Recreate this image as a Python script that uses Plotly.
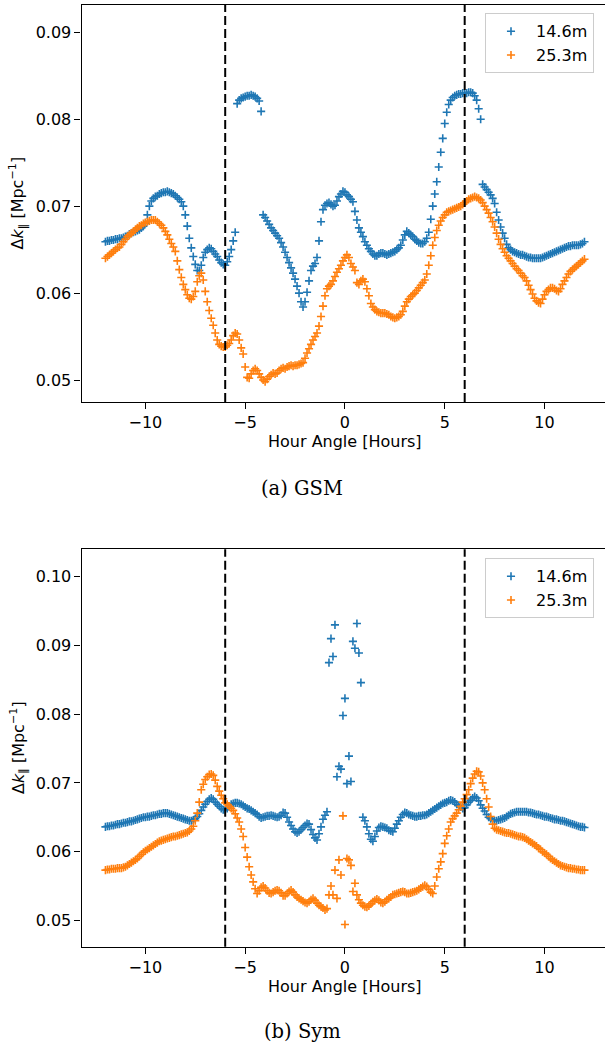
import numpy as np
import plotly.graph_objects as go

# Hour angle sampling (hours), -12 .. 12 in 0.1 h steps
hour_angle = np.round(np.arange(-120, 121) / 10.0, 1)

# GSM, 14.6 m baseline
gsm_146 = [
    0.0659, 0.0660, 0.0660, 0.0661, 0.0661, 0.0662, 0.0662, 0.0663, 0.0663, 0.0664,
    0.0665, 0.0666, 0.0668, 0.0669, 0.0670, 0.0671, 0.0672, 0.0673, 0.0675, 0.0677,
    0.0680, 0.0690, 0.0700, 0.0706, 0.0709, 0.0711, 0.0712, 0.0714, 0.0715, 0.0716,
    0.0716, 0.0717, 0.0716, 0.0715, 0.0714, 0.0712, 0.0710, 0.0708, 0.0705, 0.0700,
    0.0690, 0.0677, 0.0663, 0.0652, 0.0642, 0.0633, 0.0626, 0.0626, 0.0632, 0.0641,
    0.0647, 0.0650, 0.0652, 0.0651, 0.0648, 0.0645, 0.0642, 0.0638, 0.0635, 0.0633,
    0.0632, 0.0636, 0.0642, 0.0650, 0.0660, 0.0670, 0.0818, 0.0822, 0.0824, 0.0825,
    0.0826, 0.0827, 0.0827, 0.0828, 0.0827, 0.0826, 0.0824, 0.0821, 0.0809, 0.0690,
    0.0687, 0.0683, 0.0679, 0.0675, 0.0672, 0.0669, 0.0666, 0.0663, 0.0658, 0.0653,
    0.0647, 0.0641, 0.0635, 0.0629, 0.0623, 0.0616, 0.0608, 0.0600, 0.0590, 0.0584,
    0.0590, 0.0601, 0.0614, 0.0626, 0.0631, 0.0634, 0.0641, 0.0660, 0.0682, 0.0696,
    0.0701, 0.0703, 0.0704, 0.0702, 0.0700, 0.0701, 0.0706, 0.0711, 0.0714, 0.0717,
    0.0716, 0.0713, 0.0711, 0.0708, 0.0705, 0.0694, 0.0684, 0.0675, 0.0670, 0.0665,
    0.0659, 0.0655, 0.0651, 0.0648, 0.0645, 0.0643, 0.0643, 0.0645, 0.0646, 0.0646,
    0.0645, 0.0644, 0.0645, 0.0646, 0.0647, 0.0648, 0.0650, 0.0652, 0.0655, 0.0661,
    0.0667, 0.0671, 0.0669, 0.0667, 0.0665, 0.0662, 0.0660, 0.0658, 0.0657, 0.0657,
    0.0659, 0.0663, 0.0670, 0.0685, 0.0700, 0.0714, 0.0728, 0.0745, 0.0762, 0.0778,
    0.0795, 0.0808, 0.0817, 0.0822, 0.0825, 0.0827, 0.0828, 0.0829, 0.0829, 0.0830,
    0.0830, 0.0830, 0.0831, 0.0831, 0.0830, 0.0827, 0.0822, 0.0812, 0.0800, 0.0725,
    0.0722, 0.0719, 0.0716, 0.0713, 0.0709, 0.0703, 0.0693, 0.0684, 0.0676, 0.0669,
    0.0663, 0.0656, 0.0652, 0.0650, 0.0648, 0.0647, 0.0646, 0.0645, 0.0644, 0.0644,
    0.0643, 0.0642, 0.0641, 0.0641, 0.0640, 0.0640, 0.0640, 0.0640, 0.0640, 0.0641,
    0.0642, 0.0643, 0.0644, 0.0645, 0.0646, 0.0647, 0.0648, 0.0649, 0.0650, 0.0651,
    0.0652, 0.0653, 0.0654, 0.0654, 0.0655, 0.0655, 0.0655, 0.0655, 0.0656, 0.0657,
    0.0659,
]

# GSM, 25.3 m baseline
gsm_253 = [
    0.0640, 0.0642, 0.0644, 0.0646, 0.0648, 0.0650, 0.0652, 0.0653, 0.0656, 0.0659,
    0.0662, 0.0665, 0.0667, 0.0669, 0.0671, 0.0673, 0.0675, 0.0677, 0.0678, 0.0680,
    0.0681, 0.0682, 0.0683, 0.0684, 0.0684, 0.0684, 0.0682, 0.0680, 0.0678, 0.0675,
    0.0671, 0.0667, 0.0662, 0.0657, 0.0653, 0.0648, 0.0637, 0.0627, 0.0618, 0.0610,
    0.0604, 0.0598, 0.0594, 0.0593, 0.0596, 0.0602, 0.0613, 0.0620, 0.0623, 0.0615,
    0.0602, 0.0590, 0.0580, 0.0571, 0.0563, 0.0554, 0.0546, 0.0541, 0.0539, 0.0538,
    0.0538, 0.0540, 0.0542, 0.0546, 0.0551, 0.0554, 0.0553, 0.0546, 0.0537, 0.0530,
    0.0515, 0.0503, 0.0502, 0.0507, 0.0511, 0.0513, 0.0511, 0.0507, 0.0503, 0.0500,
    0.0498, 0.0501, 0.0504, 0.0506, 0.0508, 0.0507, 0.0508, 0.0511, 0.0513, 0.0514,
    0.0513, 0.0515, 0.0516, 0.0517, 0.0516, 0.0517, 0.0517, 0.0518, 0.0519, 0.0520,
    0.0525, 0.0531, 0.0536, 0.0541, 0.0546, 0.0550, 0.0554, 0.0562, 0.0573, 0.0585,
    0.0597, 0.0605, 0.0608, 0.0610, 0.0614, 0.0619, 0.0624, 0.0628, 0.0632, 0.0637,
    0.0641, 0.0644, 0.0641, 0.0634, 0.0630, 0.0626, 0.0612, 0.0610, 0.0614, 0.0616,
    0.0613, 0.0605, 0.0597, 0.0588, 0.0584, 0.0581, 0.0579, 0.0578, 0.0577, 0.0577,
    0.0577, 0.0576, 0.0575, 0.0573, 0.0572, 0.0571, 0.0572, 0.0573, 0.0575, 0.0579,
    0.0585, 0.0590, 0.0593, 0.0596, 0.0598, 0.0600, 0.0603, 0.0606, 0.0609, 0.0612,
    0.0615, 0.0622, 0.0632, 0.0643, 0.0655, 0.0664, 0.0672, 0.0678, 0.0683, 0.0687,
    0.0690, 0.0693, 0.0694, 0.0695, 0.0696, 0.0697, 0.0698, 0.0699, 0.0700, 0.0702,
    0.0704, 0.0706, 0.0708, 0.0709, 0.0710, 0.0711, 0.0710, 0.0709, 0.0707, 0.0704,
    0.0700, 0.0696, 0.0692, 0.0687, 0.0682, 0.0676, 0.0669, 0.0662, 0.0656, 0.0651,
    0.0647, 0.0643, 0.0640, 0.0637, 0.0634, 0.0631, 0.0628, 0.0626, 0.0623, 0.0620,
    0.0618, 0.0614, 0.0609, 0.0604, 0.0599, 0.0594, 0.0591, 0.0589, 0.0588, 0.0593,
    0.0598, 0.0602, 0.0604, 0.0606, 0.0606, 0.0605, 0.0603, 0.0602, 0.0605, 0.0610,
    0.0614, 0.0618, 0.0622, 0.0625, 0.0627, 0.0629, 0.0631, 0.0633, 0.0635, 0.0637,
    0.0639,
]

# Sym, 14.6 m baseline
sym_146 = [
    0.0636, 0.0637, 0.0637, 0.0638, 0.0638, 0.0639, 0.0640, 0.0640, 0.0641, 0.0642,
    0.0642, 0.0643, 0.0644, 0.0644, 0.0645, 0.0646, 0.0647, 0.0648, 0.0649, 0.0650,
    0.0650, 0.0651, 0.0651, 0.0652, 0.0653, 0.0653, 0.0654, 0.0655, 0.0655, 0.0656,
    0.0656, 0.0656, 0.0655, 0.0654, 0.0653, 0.0652, 0.0651, 0.0650, 0.0649, 0.0648,
    0.0647, 0.0646, 0.0645, 0.0645, 0.0646, 0.0648, 0.0651, 0.0655, 0.0660, 0.0665,
    0.0669, 0.0673, 0.0676, 0.0678, 0.0676, 0.0672, 0.0669, 0.0666, 0.0663, 0.0661,
    0.0661, 0.0663, 0.0666, 0.0669, 0.0670, 0.0671, 0.0671, 0.0670, 0.0669, 0.0667,
    0.0665, 0.0663, 0.0662, 0.0660, 0.0658, 0.0656, 0.0654, 0.0651, 0.0649, 0.0650,
    0.0651, 0.0652, 0.0652, 0.0653, 0.0652, 0.0651, 0.0650, 0.0651, 0.0653, 0.0657,
    0.0656, 0.0650, 0.0643, 0.0638, 0.0633, 0.0629, 0.0627, 0.0629, 0.0632, 0.0635,
    0.0638, 0.0641, 0.0640, 0.0632, 0.0625, 0.0620, 0.0617, 0.0626, 0.0636, 0.0647,
    0.0653, 0.0658, 0.0875, 0.0910, 0.0884, 0.0930, 0.0709, 0.0724, 0.0720, 0.0798,
    0.0823, 0.0699, 0.0739, 0.0702, 0.0906, 0.0896, 0.0932, 0.0889, 0.0846, 0.0650,
    0.0645, 0.0636, 0.0626, 0.0618, 0.0615, 0.0622, 0.0630, 0.0635, 0.0637, 0.0636,
    0.0635, 0.0634, 0.0631, 0.0630, 0.0629, 0.0634, 0.0640, 0.0645, 0.0650, 0.0654,
    0.0657, 0.0656, 0.0654, 0.0653, 0.0652, 0.0651, 0.0651, 0.0652, 0.0652, 0.0653,
    0.0653, 0.0654, 0.0656, 0.0658, 0.0660, 0.0662, 0.0664, 0.0666, 0.0668, 0.0670,
    0.0671, 0.0672, 0.0674, 0.0675, 0.0674, 0.0672, 0.0669, 0.0667, 0.0665, 0.0663,
    0.0664, 0.0668, 0.0672, 0.0675, 0.0678, 0.0680, 0.0678, 0.0674, 0.0668, 0.0663,
    0.0659, 0.0654, 0.0650, 0.0648, 0.0646, 0.0645, 0.0645, 0.0646, 0.0647, 0.0648,
    0.0649, 0.0651, 0.0653, 0.0655, 0.0656, 0.0657, 0.0658, 0.0658, 0.0658, 0.0658,
    0.0658, 0.0658, 0.0657, 0.0657, 0.0656, 0.0655, 0.0654, 0.0654, 0.0653, 0.0652,
    0.0651, 0.0651, 0.0650, 0.0649, 0.0648, 0.0647, 0.0647, 0.0646, 0.0645, 0.0645,
    0.0644, 0.0643, 0.0642, 0.0641, 0.0640, 0.0639, 0.0638, 0.0637, 0.0636, 0.0636,
    0.0635,
]

# Sym, 25.3 m baseline
sym_253 = [
    0.0573, 0.0574, 0.0574, 0.0575, 0.0575, 0.0575, 0.0576, 0.0576, 0.0576, 0.0577,
    0.0578, 0.0580, 0.0582, 0.0584, 0.0586, 0.0588, 0.0590, 0.0593, 0.0596, 0.0599,
    0.0601, 0.0603, 0.0605, 0.0607, 0.0609, 0.0611, 0.0613, 0.0615, 0.0616, 0.0617,
    0.0618, 0.0619, 0.0620, 0.0621, 0.0622, 0.0622, 0.0623, 0.0624, 0.0625, 0.0626,
    0.0627, 0.0628, 0.0630, 0.0633, 0.0637, 0.0645, 0.0656, 0.0672, 0.0690, 0.0698,
    0.0705, 0.0709, 0.0712, 0.0713, 0.0711, 0.0704, 0.0695, 0.0688, 0.0682, 0.0677,
    0.0671, 0.0669, 0.0666, 0.0663, 0.0660, 0.0655, 0.0649, 0.0643, 0.0633, 0.0622,
    0.0606, 0.0592, 0.0578, 0.0566, 0.0556, 0.0546, 0.0539, 0.0543, 0.0548, 0.0550,
    0.0547, 0.0543, 0.0540, 0.0539, 0.0541, 0.0543, 0.0544, 0.0543, 0.0540, 0.0536,
    0.0536, 0.0539, 0.0542, 0.0544, 0.0541, 0.0537, 0.0534, 0.0532, 0.0530, 0.0528,
    0.0526, 0.0525, 0.0527, 0.0530, 0.0532, 0.0529, 0.0525, 0.0522, 0.0520, 0.0518,
    0.0515, 0.0517, 0.0537, 0.0550, 0.0537, 0.0573, 0.0532, 0.0588, 0.0566, 0.0652,
    0.0494, 0.0590, 0.0588, 0.0580, 0.0542, 0.0554, 0.0537, 0.0530, 0.0525, 0.0522,
    0.0520, 0.0519, 0.0521, 0.0524, 0.0527, 0.0529, 0.0531, 0.0529, 0.0526, 0.0525,
    0.0527, 0.0530, 0.0532, 0.0534, 0.0537, 0.0538, 0.0539, 0.0540, 0.0541, 0.0542,
    0.0541, 0.0539, 0.0539, 0.0540, 0.0541, 0.0542, 0.0543, 0.0545, 0.0547, 0.0549,
    0.0551, 0.0549, 0.0545, 0.0541, 0.0539, 0.0550, 0.0563, 0.0575, 0.0585, 0.0597,
    0.0612, 0.0623, 0.0633, 0.0643, 0.0648, 0.0652, 0.0656, 0.0661, 0.0666, 0.0672,
    0.0677, 0.0683, 0.0690, 0.0699, 0.0707, 0.0713, 0.0717, 0.0716, 0.0710, 0.0700,
    0.0690, 0.0677, 0.0665, 0.0651, 0.0640, 0.0634, 0.0632, 0.0631, 0.0630, 0.0629,
    0.0628, 0.0627, 0.0627, 0.0626, 0.0625, 0.0624, 0.0623, 0.0622, 0.0622, 0.0621,
    0.0620, 0.0618, 0.0616, 0.0614, 0.0612, 0.0610, 0.0608, 0.0605, 0.0603, 0.0600,
    0.0598, 0.0596, 0.0593, 0.0590, 0.0588, 0.0586, 0.0584, 0.0582, 0.0580, 0.0579,
    0.0578, 0.0577, 0.0576, 0.0576, 0.0575, 0.0575, 0.0574, 0.0574, 0.0573, 0.0573,
    0.0573,
]

for name, arr in [("gsm_146", gsm_146), ("gsm_253", gsm_253), ("sym_146", sym_146), ("sym_253", sym_253)]:
    assert len(arr) == len(hour_angle), (name, len(arr))

series_names = ["14.6m", "25.3m"]
colors = ["#1f77b4", "#ff7f0e"]
vlines = [-6, 6]
xticks = [-10, -5, 0, 5, 10]
yticks_top = [0.05, 0.06, 0.07, 0.08, 0.09]
yticks_bot = [0.05, 0.06, 0.07, 0.08, 0.09, 0.10]
captions = ["(a) GSM", "(b) Sym"]

W, H = 605, 1048
def py(px):
    return 1 - px / H

fig = go.Figure()

panels = [
    (gsm_146, gsm_253, "x", "y", "legend"),
    (sym_146, sym_253, "x2", "y2", "legend2"),
]
for (a, b, xa, ya, lg) in panels:
    for vals, nm, col in zip([a, b], series_names, colors):
        fig.add_trace(go.Scatter(
            x=hour_angle, y=vals, mode="markers", name=nm,
            xaxis=xa, yaxis=ya, legend=lg,
            marker=dict(symbol="cross-thin", size=5.8, color=col,
                        line=dict(color=col, width=1.6)),
        ))

for xa in ["x", "x2"]:
    for v in vlines:
        fig.add_shape(type="line", xref=xa, yref=f"{'y' if xa == 'x' else 'y2'} domain",
                      x0=v, x1=v, y0=0, y1=1,
                      line=dict(color="black", width=2, dash="9px,4px"))

x_dom = [81.5 / W, 1.0]
axis_common = dict(showline=True, linecolor="black", linewidth=1.1,
                   ticks="outside", ticklen=6, tickwidth=1.1, tickcolor="black",
                   showgrid=False, zeroline=False,
                   tickfont=dict(family="DejaVu Sans", size=16, color="black"))

fig.update_layout(
    width=W, height=H,
    margin=dict(l=0, r=0, t=0, b=0),
    paper_bgcolor="white", plot_bgcolor="white",
    xaxis=dict(domain=x_dom, anchor="y", range=[-13.2, 13.03], tickvals=xticks,
               mirror=True, **axis_common),
    yaxis=dict(domain=[py(402), py(5)], anchor="x", range=[0.04747, 0.09314],
               tickvals=yticks_top, tickformat=".2f", **axis_common),
    xaxis2=dict(domain=x_dom, anchor="y2", range=[-13.2, 13.03], tickvals=xticks,
                mirror=True, **axis_common),
    yaxis2=dict(domain=[py(946.7), py(549.3)], anchor="x2", range=[0.04616, 0.1040],
                tickvals=yticks_bot, tickformat=".2f", **axis_common),
    legend=dict(x=485 / W, y=py(13.3), xanchor="left", yanchor="top",
                bgcolor="white", bordercolor="#cccccc", borderwidth=1,
                itemwidth=40, font=dict(family="DejaVu Sans", size=16, color="black")),
    legend2=dict(x=485 / W, y=py(558.3), xanchor="left", yanchor="top",
                 bgcolor="white", bordercolor="#cccccc", borderwidth=1,
                 itemwidth=40, font=dict(family="DejaVu Sans", size=16, color="black")),
    showlegend=True,
)

ylabel = "Δ<i>k</i><sub>∥</sub> [Mpc<sup>−1</sup>]"
xlabel = "Hour Angle [Hours]"
ann_font = dict(family="DejaVu Sans", size=16, color="black")
annotations = [
    dict(text=ylabel, x=18 / W, y=py(203.5), textangle=-90),
    dict(text=ylabel, x=18 / W, y=py(748), textangle=-90),
    dict(text=xlabel, x=344.5 / W, y=py(441)),
    dict(text=xlabel, x=344.5 / W, y=py(986)),
]
for a in annotations:
    fig.add_annotation(xref="paper", yref="paper", showarrow=False,
                       xanchor="center", yanchor="middle", font=ann_font, **a)
for cap, yy in zip(captions, [488, 1031]):
    fig.add_annotation(text=cap, xref="paper", yref="paper", x=302 / W, y=py(yy),
                       showarrow=False, xanchor="center", yanchor="middle",
                       font=dict(family="DejaVu Serif", size=19.5, color="black"))

fig.write_html("out.html",
               config={"displayModeBar": False},
               post_script="document.body.style.margin='0';document.body.style.padding='0';"
                           "document.body.style.overflow='hidden';")
